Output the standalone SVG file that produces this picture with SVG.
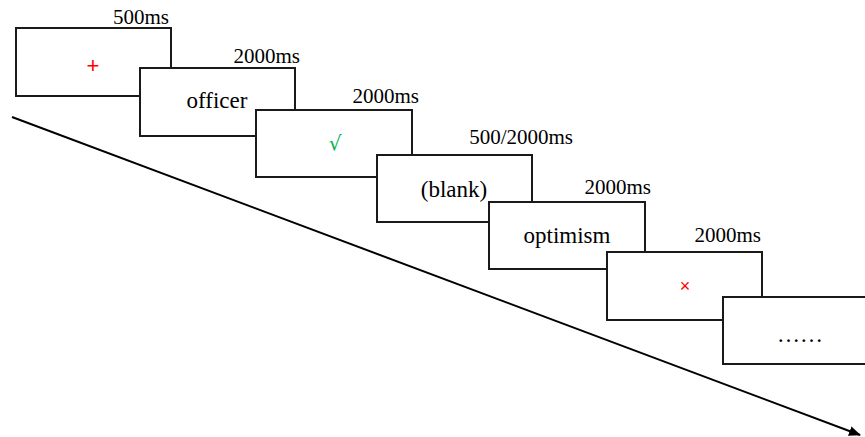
<svg xmlns="http://www.w3.org/2000/svg" width="865" height="437" viewBox="0 0 865 437">
<style>
.box{fill:#fff;stroke:#1a1a1a;stroke-width:2}
.t{font-family:"Liberation Serif","Times New Roman",serif;font-size:21px;fill:#000}
.w{font-family:"Liberation Serif","Times New Roman",serif;font-size:23px;fill:#000;text-anchor:middle}
</style>
<defs>
<marker id="ah" markerWidth="12" markerHeight="10" refX="11" refY="5" orient="auto" markerUnits="userSpaceOnUse">
<path d="M0,0 L12,5 L0,10 z" fill="#000"/>
</marker>
</defs>
<rect width="865" height="437" fill="#fff"/>
<g id="connectors">
<line x1="12" y1="117" x2="860" y2="435" stroke="#000" stroke-width="2" marker-end="url(#ah)"/>
</g>
<g id="n1">
<rect class="box" x="16" y="28" width="155" height="68"/>
<text x="93" y="73" font-family="Liberation Sans,Arial,sans-serif" font-size="22" fill="#f00" text-anchor="middle">+</text>
<text class="t" x="169" y="24" text-anchor="end">500ms</text>
</g>
<g id="n2">
<rect class="box" x="140" y="68" width="155" height="68"/>
<text class="w" x="217" y="108">officer</text>
<text class="t" x="300" y="63" text-anchor="end">2000ms</text>
</g>
<g id="n3">
<rect class="box" x="256" y="110" width="156" height="67"/>
<text x="335" y="150" font-family="DejaVu Sans,sans-serif" font-size="20" fill="#00b050" text-anchor="middle">√</text>
<text class="t" x="419" y="103" text-anchor="end">2000ms</text>
</g>
<g id="n4">
<rect class="box" x="377" y="155" width="155" height="67"/>
<text class="w" x="454" y="197">(blank)</text>
<text class="t" x="573" y="144" text-anchor="end">500/2000ms</text>
</g>
<g id="n5">
<rect class="box" x="489" y="202" width="156" height="67"/>
<text class="w" x="567" y="243">optimism</text>
<text class="t" x="651" y="194" text-anchor="end">2000ms</text>
</g>
<g id="n6">
<rect class="box" x="607" y="252" width="155" height="68"/>
<text x="685" y="292" font-family="Liberation Sans,Arial,sans-serif" font-size="18" fill="#f00" text-anchor="middle">×</text>
<text class="t" x="761" y="242" text-anchor="end">2000ms</text>
</g>
<g id="n7">
<rect class="box" x="723" y="297" width="160" height="67"/>
<text class="w" x="800" y="342">……</text>
</g>
</svg>
